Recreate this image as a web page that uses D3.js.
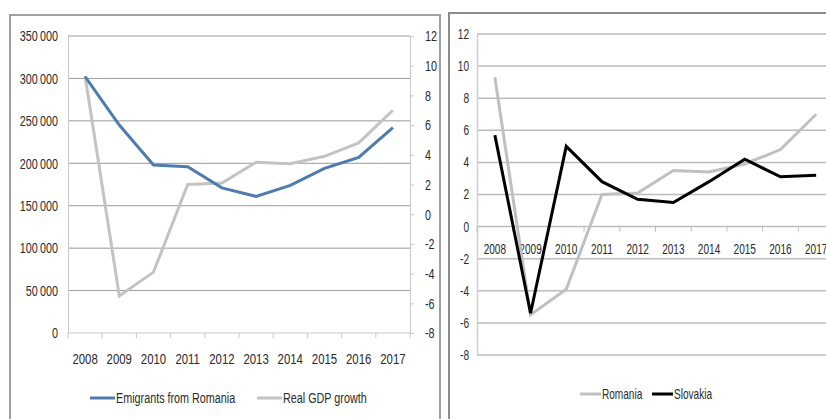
<!DOCTYPE html>
<html>
<head>
<meta charset="utf-8">
<script src="https://cdn.jsdelivr.net/npm/d3@7"></script>
<style>
  body { margin: 0; background: #fff; }
  svg text { font-family: "Liberation Sans", Arial, sans-serif; fill: #2a2a2a; }
</style>
</head>
<body>
<div id="chart"></div>
<script>
// data
const years = ["2008", "2009", "2010", "2011", "2012", "2013", "2014", "2015", "2016", "2017"];
const emigrants = [302000, 245000, 198000, 196000, 171000, 161000, 174000, 194000, 207000, 242000];
const romaniaGdp = [9.3, -5.5, -3.9, 2.0, 2.1, 3.5, 3.4, 3.9, 4.8, 7.0];
const slovakiaGdp = [5.7, -5.4, 5.0, 2.8, 1.7, 1.5, 2.8, 4.2, 3.1, 3.2];
const leftTicks = [0, 50000, 100000, 150000, 200000, 250000, 300000, 350000];
const gdpTicks = [-8, -6, -4, -2, 0, 2, 4, 6, 8, 10, 12];

const svg = d3.select("#chart").append("svg")
    .attr("width", 826)
    .attr("height", 419);

const fmt = d3.formatLocale({decimal: ".", thousands: "\u2009", grouping: [3], currency: ["", ""]}).format(",");
const plain = d => String(d);   // keep the hyphen minus like the original

// squeeze text horizontally, keeping its anchor point (narrow Calibri look)
function condense(sel, s) {
    sel.each(function () {
        let t = d3.select(this);
        let x = +(t.attr("x") || 0);
        t.attr("x", x / s).attr("transform", `scale(${s},1)`);
    });
}

/* * * * * left chart * * * * */
let left = {x0: 68, x1: 410, y0: 333, y1: 36};

svg.append("path")
    .attr("d", "M10,419V15H440V419")
    .attr("fill", "none")
    .attr("stroke", "#a0a0a0")
    .attr("stroke-width", 2);

let xL = d3.scaleBand().domain(years).range([left.x0, left.x1]);
let yL = d3.scaleLinear().domain([0, 350000]).range([left.y0, left.y1]);
let yLR = d3.scaleLinear().domain([-8, 12]).range([left.y0, left.y1]);

// gridlines
svg.append("g").selectAll("line")
    .data(leftTicks.slice(1))
    .join("line")
    .attr("x1", left.x0).attr("x2", left.x1)
    .attr("y1", d => yL(d)).attr("y2", d => yL(d))
    .attr("stroke", "#9a9a9a")
    .attr("stroke-width", 1);

// left axis
let gL = svg.append("g").attr("transform", `translate(${left.x0},0)`)
    .call(d3.axisLeft(yL).tickValues(leftTicks).tickFormat(fmt).tickSize(0).tickPadding(10));
gL.select(".domain").attr("stroke", "#c8c8c8");
gL.selectAll("text").style("font-size", "15px").call(condense, 0.72);

// right axis
let gR = svg.append("g").attr("transform", `translate(${left.x1},0)`)
    .call(d3.axisRight(yLR).tickValues(gdpTicks).tickFormat(plain).tickSize(4).tickPadding(11));
gR.select(".domain").attr("stroke", "#c8c8c8");
gR.selectAll(".tick line").attr("stroke", "#c8c8c8");
gR.selectAll("text").style("font-size", "15px").call(condense, 0.72);

// bottom axis
let xTickPos = years.map(d => xL(d)).concat([left.x1]);
svg.append("line")
    .attr("x1", left.x0).attr("x2", left.x1)
    .attr("y1", left.y0).attr("y2", left.y0)
    .attr("stroke", "#c8c8c8");
svg.append("g").selectAll("line")
    .data(xTickPos)
    .join("line")
    .attr("x1", d => d).attr("x2", d => d)
    .attr("y1", left.y0).attr("y2", left.y0 + 5)
    .attr("stroke", "#c8c8c8");
svg.append("g").selectAll("text")
    .data(years)
    .join("text")
    .attr("x", d => xL(d) + xL.bandwidth() / 2)
    .attr("y", 364)
    .attr("text-anchor", "middle")
    .style("font-size", "15px")
    .text(d => d)
    .call(condense, 0.76);

// lines
let lineL = d3.line().x((d, i) => xL(years[i]) + xL.bandwidth() / 2).y(d => yLR(d));
svg.append("path")
    .datum(romaniaGdp)
    .attr("d", lineL)
    .attr("fill", "none")
    .attr("stroke", "#c3c3c3")
    .attr("stroke-width", 3);

let lineE = d3.line().x((d, i) => xL(years[i]) + xL.bandwidth() / 2).y(d => yL(d));
svg.append("path")
    .datum(emigrants)
    .attr("d", lineE)
    .attr("fill", "none")
    .attr("stroke", "#4f7bad")
    .attr("stroke-width", 3);

// legend
let legL = [
    {name: "Emigrants from Romania", color: "#4f7bad", x: 90},
    {name: "Real GDP growth", color: "#c3c3c3", x: 257}
];
let lg = svg.append("g").selectAll("g").data(legL).join("g")
    .attr("transform", d => `translate(${d.x},398)`);
lg.append("line").attr("x1", 0).attr("x2", 25)
    .attr("stroke", d => d.color).attr("stroke-width", 3);
lg.append("text").attr("x", 26).attr("y", 5)
    .style("font-size", "15px")
    .text(d => d.name)
    .call(condense, 0.72);

/* * * * * right chart * * * * */
let right = {x0: 477, x1: 834, y0: 355, y1: 34};

svg.append("path")
    .attr("d", "M449,419V13H826")
    .attr("fill", "none")
    .attr("stroke", "#8c8c8c")
    .attr("stroke-width", 2);

let xR = d3.scaleBand().domain(years).range([right.x0, right.x1]);
let yR = d3.scaleLinear().domain([-8, 12]).range([right.y0, right.y1]);

svg.append("g").selectAll("line")
    .data(gdpTicks)
    .join("line")
    .attr("x1", right.x0).attr("x2", 826)
    .attr("y1", d => yR(d)).attr("y2", d => yR(d))
    .attr("stroke", "#bcbcbc")
    .attr("stroke-width", 1.5);

let gY = svg.append("g").attr("transform", `translate(${right.x0},0)`)
    .call(d3.axisLeft(yR).tickValues(gdpTicks).tickFormat(plain).tickSize(0).tickPadding(8));
gY.select(".domain").attr("stroke", "#d0d0d0").attr("stroke-width", 1.5);
gY.selectAll("text").style("font-size", "14px").call(condense, 0.72);

// x axis crosses at zero
let xTickR = years.map(d => xR(d));
svg.append("g").selectAll("line")
    .data(xTickR)
    .join("line")
    .attr("x1", d => d).attr("x2", d => d)
    .attr("y1", yR(0)).attr("y2", yR(0) + 5)
    .attr("stroke", "#bcbcbc");
svg.append("g").selectAll("text")
    .data(years)
    .join("text")
    .attr("x", d => xR(d) + xR.bandwidth() / 2)
    .attr("y", yR(0) + 27)
    .attr("text-anchor", "middle")
    .style("font-size", "14px")
    .text(d => d)
    .call(condense, 0.72);

let lineR = d3.line().x((d, i) => xR(years[i]) + xR.bandwidth() / 2).y(d => yR(d));
svg.append("path")
    .datum(romaniaGdp)
    .attr("d", lineR)
    .attr("fill", "none")
    .attr("stroke", "#c0c0c0")
    .attr("stroke-width", 3);
svg.append("path")
    .datum(slovakiaGdp)
    .attr("d", lineR)
    .attr("fill", "none")
    .attr("stroke", "#000")
    .attr("stroke-width", 3);

let legR = [
    {name: "Romania", color: "#c0c0c0", x: 580},
    {name: "Slovakia", color: "#000", x: 652}
];
let lg2 = svg.append("g").selectAll("g").data(legR).join("g")
    .attr("transform", d => `translate(${d.x},394)`);
lg2.append("line").attr("x1", 0).attr("x2", 21)
    .attr("stroke", d => d.color).attr("stroke-width", 3);
lg2.append("text").attr("x", 22).attr("y", 5)
    .style("font-size", "14px")
    .text(d => d.name)
    .call(condense, 0.72);
</script>
</body>
</html>
